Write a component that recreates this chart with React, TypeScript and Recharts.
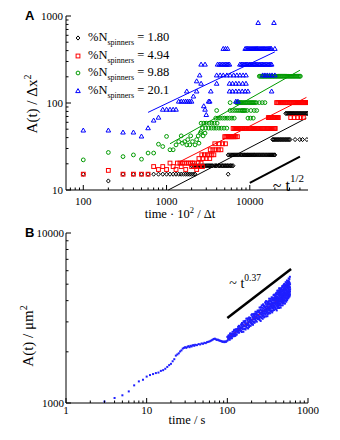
import type { ReactElement } from 'react';
import { Legend, ReferenceLine, Scatter, ScatterChart, XAxis, YAxis } from 'recharts';

const SERIF = '"Liberation Serif", "DejaVu Serif", serif';
const SANS = '"Liberation Sans", Arial, sans-serif';

// Panel A: each row is [A(t)/Δx², times at which that value was recorded]
type Row = [number, number[]];

const spinnerPercents = ['1.80', '4.94', '9.88', '20.1'];

const rows180: Row[] = [
  [15.2, [100, 300, 400, 500, 600, 700, 800, 900, 1000, 1100, 1200, 1300, 1400, 1500, 1600, 1700, 1800, 1900, 2000, 2100, 2200, 5500]],
  [12.7, [200]],
  [19, [2000, 2100, 2200, 2300, 2400, 2500, 2600, 2700, 2800, 2900, 3000, 3100, 3200, 3300, 3400, 3500, 3600, 3800, 3900, 4000, 4200, 4300, 4400, 4600, 4700, 4800, 5000, 5100, 5300, 5400, 5600, 5800, 5900, 6100, 6300]],
  [25.3, [5500, 5700, 5900, 6100, 6300, 6500, 6700, 6900, 7100, 7300, 7500, 7800, 8000, 8200, 8500, 8700, 9000, 9300, 9500, 9800, 10100, 10400, 10700, 11000, 11300, 11600, 12000, 12300, 12700, 13000, 13400, 13800, 14200, 14600, 15000, 15500, 15900, 16400, 16900, 17400, 17900, 18400, 18900, 19500, 20000]],
  [38, [18800, 19300, 19900, 20500, 21100, 21700, 22300, 23000, 23600, 24300, 25000, 25700, 26500, 27200, 28000, 28800, 29600, 30400, 35000, 39800, 43000, 48500]],
  [76, [27000, 27800, 28600, 29400, 30200, 31000, 31900, 32800, 33700, 34700, 35700, 36700, 37700, 38800, 39900, 41000, 42200, 43400, 44600, 45900, 47200, 48500, 49500]],
];

const rows494: Row[] = [
  [15.2, [100, 300, 400, 500, 600]],
  [16.8, [200]],
  [17.2, [800, 1000, 1300, 1700, 2300]],
  [18.6, [700, 900, 1200, 1500, 2000, 2200, 2500, 2700]],
  [20.4, [1100, 1350, 1450, 1550, 1650, 1750, 1850, 1950, 2050, 2150, 2400, 2600]],
  [23, [2450, 2750, 3000, 3300]],
  [25.4, [2650, 2850, 3100, 3300, 3500, 3700]],
  [29, [3350, 3600, 3900, 4200, 4500]],
  [34, [3800, 4300, 4700, 5100]],
  [41, [5000, 5150, 5300, 5450, 5600, 5750, 5900, 6050, 6200, 6400, 6600, 6800, 7100]],
  [51, [6300, 6500, 6700, 6900, 7100, 7300, 7500, 7700, 7900, 8100, 8300, 8600, 8800, 9100, 9300, 9600, 9900, 10200, 10500, 10800, 11100, 11400, 11700, 12100, 12400, 12800, 13200, 13600, 14000, 14400, 14800, 15200, 15700, 16200, 16600, 17100, 17600, 18100, 18700, 19200, 19800, 20200]],
  [68, [16700, 17200, 17700, 18200, 18700, 19300, 19800, 20400, 21000, 21600, 22000, 31000, 34000, 37500, 41000, 44000]],
  [101, [21000, 21600, 22200, 22900, 23500, 24200, 24900, 25600, 26400, 27100, 27900, 28700, 29600, 30400, 31300, 32200, 33200, 34100, 35100, 36100, 37200, 38300, 39400, 40500, 41700, 42900, 44200, 45500, 46800, 48200, 49500]],
];

const rows988: Row[] = [
  [22.2, [100]],
  [27, [200]],
  [24.2, [300]],
  [25.3, [400]],
  [22.6, [500]],
  [26.6, [600, 700]],
  [33.6, [800]],
  [31.6, [900]],
  [41.3, [1000]],
  [29, [1100, 1200]],
  [33, [1300, 1750, 1900, 2200]],
  [36, [1400, 1650, 2050]],
  [34.5, [1550, 2450]],
  [38, [1800, 2300]],
  [41.9, [1500, 1950, 2400, 2750]],
  [45, [2550, 2900]],
  [47, [2600]],
  [51.4, [2700, 2950, 3200, 3450, 3700, 3950, 4250, 4550, 4900, 5300]],
  [58.6, [2600, 2800, 3000, 3250, 3500, 3750, 4050]],
  [67, [3900, 4150, 4400, 4700, 5000, 5350, 5700, 6100, 6500, 9500, 10200, 11000]],
  [82, [4000, 5800, 6200, 6600, 7000, 7400, 7800, 8100, 8300, 8600, 8800, 9300, 10300, 11300, 12100]],
  [101, [5800, 6900, 7100, 7300, 7500, 7700, 7900, 8100, 8400, 8600, 8900, 9100, 9400, 9700, 10000, 10300, 10600, 10900, 11200, 11600, 12000, 13000, 14100, 15200]],
  [203, [13000, 13400, 13800, 14200, 14600, 15000, 15500, 15900, 16400, 16900, 17400, 17900, 18400, 19000, 19500, 20100, 20700, 21300, 22000, 22600, 23300, 24000, 24700, 25500, 26200, 27000, 27800, 28700, 29500, 30400, 31300, 32200, 33200, 34200, 35200, 36300, 37400, 38500, 39600, 40500]],
];

const rows201: Row[] = [
  [48.4, [100, 200]],
  [45.9, [300, 400]],
  [41.3, [500]],
  [51.4, [600]],
  [63, [700]],
  [68, [800]],
  [84, [900, 1000, 1100, 1200, 1300, 2900]],
  [73, [3000]],
  [92, [2800]],
  [104, [1400, 1500, 1600, 1700, 1800, 1900, 2000, 3200, 3300, 6800, 7200]],
  [119, [2100]],
  [136, [1750, 2300, 3400, 5700, 6200, 6800, 7400, 8100, 8800, 9500, 18300]],
  [167, [2600, 4000, 5700, 6200, 6800, 7400, 8200, 9000]],
  [178, [2300]],
  [208, [2500, 4000, 4400, 4800, 5300, 5800, 6400, 7000, 7600, 8300, 9000, 14300, 15200, 16200, 17300, 18500, 20000]],
  [277, [2600, 2900, 4100, 4300, 4500, 4700, 4900, 5100, 5300, 5500, 5700, 7600, 7900, 8200, 8500, 8800, 9100, 9400, 9800, 10100, 10500, 10800, 11200, 11600, 12000, 12400, 12900, 13300, 13800, 14300, 14800, 15300, 15900, 16500, 17100, 17700, 18300]],
  [420, [4800, 5100, 5400, 8800, 9100, 9400, 9700, 10000, 10300, 10600, 10900, 11200, 11500, 11800, 12100, 12400, 12800, 13200, 13600, 14000, 14400, 14800, 15200, 15700, 16200, 16700, 17200, 17700, 18200, 20000]],
  [834, [12600, 19500]],
];

// fitted power laws in panel A: [t0, A0, t1, A1]
const fitLinesA: [number, number, number, number][] = [
  [1050, 10, 47900, 67],
  [1450, 21.2, 47900, 116],
  [1100, 34, 40000, 238],
  [600, 78, 20000, 387],
];
const guideA: [number, number, number, number] = [10000, 12.1, 40000, 24.2];

const timeTicksA = [70, 80, 90, 100, 200, 300, 400, 500, 600, 700, 800, 900, 1000, 2000, 3000, 4000, 5000, 6000, 7000, 8000, 9000, 10000, 20000, 30000, 40000];
const areaTicksA = [10, 20, 30, 40, 50, 60, 70, 80, 90, 100, 200, 300, 400, 500, 600, 700, 800, 900, 1000];

// Panel B: early single trajectory, then the noisy cloud after t = 100 s
const earlyTimesB = [3, 4, 5, 6, 7, 8, 9, 10, 11, 12, 13, 14, 15, 16, 17, 18, 19, 20, 21, 22, 23, 24, 25, 26, 27, 28, 29, 30, 31, 32, 33, 34, 35, 36, 37, 38, 39, 40, 42, 44, 46, 48, 50, 52, 54, 56, 58, 60, 62, 64, 66, 68, 70, 72, 74, 76, 78, 80, 82, 84, 86, 88, 90, 92, 94, 96, 98];
const earlyAreasB = [1020, 1070, 1110, 1170, 1270, 1340, 1370, 1430, 1460, 1480, 1500, 1510, 1545, 1560, 1590, 1630, 1670, 1700, 1760, 1810, 1900, 1930, 1960, 2010, 2040, 2090, 2110, 2130, 2110, 2140, 2160, 2130, 2170, 2150, 2180, 2190, 2170, 2200, 2190, 2220, 2210, 2240, 2230, 2260, 2250, 2280, 2290, 2300, 2320, 2340, 2360, 2380, 2390, 2370, 2350, 2360, 2340, 2330, 2320, 2310, 2300, 2290, 2300, 2280, 2300, 2290, 2310];

const cloudB: [number, number][] = [
  [101, 2335], [102, 2463], [103, 2398], [104, 2503], [105, 2388], [106, 2469], [107, 2354], [108, 2558], [109, 2467], [110, 2401],
  [111, 2557], [112, 2465], [113, 2547], [114, 2405], [115, 2537], [116, 2621], [117, 2477], [118, 2535], [119, 2466], [120, 2627],
  [122, 2539], [123, 2701], [124, 2477], [126, 2647], [127, 2550], [128, 2714], [130, 2625], [131, 2527], [133, 2726], [134, 2602],
  [136, 2804], [137, 2650], [139, 2746], [140, 2592], [142, 2824], [143, 2695], [145, 2764], [146, 2663], [148, 2898], [149, 2767],
  [151, 2616], [152, 2955], [153, 2794], [155, 2721], [156, 2895], [158, 2624], [159, 3025], [160, 2861], [162, 2730], [163, 2964],
  [165, 2832], [166, 3039], [168, 2705], [169, 2942], [171, 2808], [172, 3132], [174, 2911], [175, 2771], [177, 3045], [178, 2875],
  [180, 3122], [181, 2744], [183, 2991], [184, 2878], [186, 3187], [187, 3044], [189, 2845], [190, 3121], [192, 2982], [193, 3169],
  [195, 2847], [196, 3096], [198, 2955], [199, 3295], [201, 3063], [202, 2915], [204, 3233], [205, 3023], [207, 3189], [208, 2885],
  [210, 3331], [211, 3119], [213, 3005], [214, 3261], [216, 3116], [217, 3342], [219, 2974], [220, 3232], [222, 3086], [223, 3441],
  [225, 3229], [226, 3043], [228, 3343], [229, 3156], [231, 3425], [232, 3010], [234, 3313], [235, 3156], [237, 3494], [238, 3270],
  [240, 3118], [241, 3418], [243, 3265], [244, 3502], [246, 3116], [247, 3421], [249, 3232],
  [251, 3644], [252, 3079], [254, 3389], [255, 3225], [257, 3536], [259, 3038], [260, 3651], [262, 3321], [264, 3498], [265, 3163],
  [267, 3750], [269, 3417], [270, 3250], [272, 3635], [274, 3128], [275, 3511], [277, 3346], [279, 3769], [280, 3600], [282, 3262],
  [284, 3722], [285, 3448], [287, 3212], [289, 3674], [290, 3538], [292, 3371], [294, 3906], [295, 3313], [297, 3638], [299, 3469],
  [300, 3828], [302, 3232], [304, 3702], [305, 3565], [307, 3394], [309, 3939], [310, 3477], [312, 3809], [314, 3241], [315, 3678],
  [317, 3578], [319, 3876], [320, 3408], [322, 3779], [324, 3351], [325, 3975], [327, 3655], [329, 3516], [330, 4107], [332, 3418],
  [334, 3867], [335, 3614], [337, 3992], [339, 3371], [340, 3819], [342, 3605], [344, 4096], [345, 3766], [347, 3513], [349, 3970],
  [350, 3712], [352, 3456], [354, 4179], [355, 3921], [357, 3627], [359, 4051], [360, 3411], [362, 3874], [364, 3730], [365, 4154],
  [367, 3628], [369, 4018], [370, 3831], [372, 3570], [374, 4309], [375, 3736], [377, 4014], [379, 3520], [380, 4143], [382, 3919],
  [384, 3732], [385, 4282], [387, 3667], [389, 4026], [390, 3874], [392, 4235], [394, 3615], [395, 4131], [397, 3824], [399, 4385],
  [401, 3560], [402, 4197], [404, 3965], [405, 4445], [407, 3737], [408, 4097], [410, 3506], [411, 4346], [413, 3874], [414, 4197],
  [416, 3683], [417, 4567], [419, 4052], [420, 3814], [422, 4344], [423, 3622], [425, 4152], [426, 4478], [428, 3878], [429, 4043],
  [431, 3766], [432, 4337], [434, 4587], [435, 3981], [437, 3621], [438, 4275], [440, 4119], [441, 3836], [443, 4496], [444, 3967],
  [446, 4711], [447, 4223], [449, 3736], [450, 4397], [452, 4074], [453, 3830], [455, 4620], [456, 4293], [458, 3638], [459, 4137],
  [461, 4516], [462, 3940], [464, 4361], [465, 4738], [467, 4037], [468, 3749], [470, 4255], [471, 4509], [473, 3930], [474, 4644],
  [476, 4148], [477, 4362], [479, 3864], [480, 4875], [482, 4251], [483, 4044], [485, 4514], [486, 3758], [488, 4778], [489, 4358],
  [491, 3983], [492, 4622], [494, 4162], [495, 4462], [497, 3873], [498, 4898], [500, 4265], [501, 4695], [503, 4061], [504, 4449],
  [506, 3856], [507, 5016], [509, 4379], [510, 4167], [512, 4647], [513, 4005], [515, 4829], [516, 4315], [518, 4580], [519, 3848],
  [521, 4937], [522, 4161], [524, 4470], [525, 4734], [527, 4001], [528, 5137], [530, 4402], [531, 4144], [533, 4674], [534, 4939],
  [536, 4290], [537, 3943], [539, 4606], [540, 5092], [542, 4132], [543, 4488], [545, 4846], [546, 4277], [548, 5254], [549, 4595],
  [551, 4026], [552, 4782], [554, 4390], [555, 5058], [557, 4221], [558, 4713], [560, 4942], [561, 4144], [563, 4551], [564, 5224],
  [566, 4337], [567, 4877], [569, 4480], [570, 4125], [572, 5074], [573, 4718], [575, 4319], [576, 5404], [578, 4644], [579, 4241],
  [581, 4970], [582, 5199], [584, 4483], [585, 4848], [587, 4219], [588, 5357], [590, 4591], [591, 5096], [593, 4419], [594, 4787],
  [596, 5524], [597, 4340], [599, 4986], [600, 4669],
];

// a second pass of frames recorded in the same interval (fills the cloud)
const cloudB2: [number, number][] = [
  [100, 2448], [103, 2374], [106, 2445], [109, 2556], [112, 2410], [115, 2543], [118, 2505], [121, 2680], [124, 2570], [127, 2499],
  [130, 2699], [133, 2658], [136, 2606], [139, 2844], [142, 2672], [145, 2782], [148, 2661],
  [150, 2860], [154, 2715], [158, 2822], [162, 2998], [166, 2729], [170, 2941], [174, 2860], [178, 3145], [182, 2939], [186, 2800],
  [190, 3128], [194, 3042], [198, 2937], [202, 3327], [206, 3018], [210, 3189], [214, 2968], [218, 3349], [222, 3144], [226, 3319],
  [230, 3324], [234, 3152], [238, 3272], [242, 3472], [246, 3158],
  [250, 3481], [254, 3212], [258, 3372], [262, 3647], [266, 3173], [270, 3508], [274, 3349], [278, 3806], [282, 3441], [286, 3190],
  [290, 3711], [294, 3549], [298, 3355], [302, 3975], [306, 3447], [310, 3706], [314, 3326], [318, 3924], [322, 3571], [326, 3836],
  [330, 3822], [334, 3526], [338, 3699], [342, 3999], [346, 3478], [350, 3844], [354, 3668], [358, 4167], [362, 3765], [366, 3489],
  [370, 4058], [374, 3879], [378, 3666], [382, 4341], [386, 3763], [390, 4045], [394, 3628], [398, 4280],
  [400, 4230], [403, 3843], [406, 4051], [409, 4419], [412, 3751], [415, 4200], [418, 3969], [421, 4582], [424, 4068], [427, 3714],
  [430, 4411], [433, 4178], [436, 3902], [439, 4727], [442, 4002], [445, 4339], [448, 3816], [451, 4605], [454, 4121], [457, 4461],
  [460, 4430], [463, 4026], [466, 4242], [469, 4626], [472, 3927], [475, 4396], [478, 4154], [481, 4795], [484, 4257], [487, 3886],
  [490, 4615], [493, 4370], [496, 4083], [499, 4944], [502, 4186], [505, 4538], [508, 3990], [511, 4815], [514, 4309], [517, 4663],
  [520, 4630], [523, 4207], [526, 4433], [529, 4834], [532, 4103], [535, 4593], [538, 4340], [541, 5008], [544, 4446], [547, 4059],
  [550, 4819], [553, 4563], [556, 4262], [559, 5161], [562, 4369], [565, 4736], [568, 4164], [571, 5024], [574, 4496], [577, 4865],
  [580, 4831], [583, 4388], [586, 4624], [589, 5043], [592, 4279], [595, 4789], [598, 4525],
];

const fitB: [number, number, number, number] = [100, 2400, 600, 4570];
const guideB: [number, number, number, number] = [100, 3160, 617, 6140];

const timeTicksB = [1, 2, 3, 4, 5, 6, 7, 8, 9, 10, 20, 30, 40, 50, 60, 70, 80, 90, 100, 200, 300, 400, 500, 600, 700, 800, 900, 1000];
const areaTicksB = [1000, 2000, 3000, 4000, 5000, 6000, 7000, 8000, 9000, 10000];

type MarkerKind = 'diamond' | 'square' | 'circle' | 'triangle' | 'dot';
const seriesStyleA: { kind: MarkerKind; color: string }[] = [
  { kind: 'diamond', color: '#000000' },
  { kind: 'square', color: '#ff0000' },
  { kind: 'circle', color: '#009a00' },
  { kind: 'triangle', color: '#0000ff' },
];
const seriesRowsA = [rows180, rows494, rows988, rows201];

function rowsToPoints(rows: Row[]): { x: number; y: number }[] {
  return rows.flatMap(([y, xs]) => xs.map((x) => ({ x, y })));
}

function Marker({ cx, cy, kind, color }: { cx: number; cy: number; kind: MarkerKind; color: string }): ReactElement {
  const r = 1.9;
  const common = { fill: 'none', stroke: color, strokeWidth: 1 };
  switch (kind) {
    case 'diamond':
      return <path d={`M${cx},${cy - r - 0.2}L${cx + r},${cy}L${cx},${cy + r + 0.2}L${cx - r},${cy}Z`} {...common} />;
    case 'square':
      return <rect x={cx - r} y={cy - r} width={2 * r} height={2 * r} {...common} />;
    case 'circle':
      return <circle cx={cx} cy={cy} r={r} {...common} />;
    case 'triangle':
      return <path d={`M${cx},${cy - r - 0.5}L${cx + r + 0.4},${cy + r - 0.3}L${cx - r - 0.4},${cy + r - 0.3}Z`} {...common} />;
    default:
      return <rect x={cx - 1} y={cy - 1} width={2} height={2} fill={color} />;
  }
}

function isDecade(v: number): boolean {
  const l = Math.log10(v);
  return Math.abs(l - Math.round(l)) < 1e-6;
}

type Side = 'bottom' | 'top' | 'left' | 'right';

function logTick(side: Side, gap: number) {
  return (props: any): ReactElement => {
    const { x, y, payload } = props;
    const v = payload.value as number;
    const major = isDecade(v);
    const len = major ? 5 : 2.5;
    let x2 = x;
    let y2 = y;
    if (side === 'bottom') y2 = y - len;
    else if (side === 'top') y2 = y + len;
    else if (side === 'left') x2 = x + len;
    else x2 = x - len;
    return (
      <g>
        <line x1={x} y1={y} x2={x2} y2={y2} stroke="#000" strokeWidth={1} />
        {major && side === 'bottom' && (
          <text x={x} y={y + gap} textAnchor="middle" fontFamily={SERIF} fontSize={11} fill="#000">
            {v}
          </text>
        )}
        {major && side === 'left' && (
          <text x={x - gap} y={y + 4} textAnchor="end" fontFamily={SERIF} fontSize={11} fill="#000">
            {v}
          </text>
        )}
      </g>
    );
  };
}

function slopeLabel(dx: number, dy: number, size: number, power: string, supSize: number, rise: number) {
  return (props: any): ReactElement => {
    const vb = props.viewBox ?? { x: 0, y: 0 };
    return (
      <text x={vb.x + dx} y={vb.y + dy} fontFamily={SERIF} fontSize={size} fill="#000">
        ~ t
        <tspan dy={-rise} fontSize={supSize}>
          {power}
        </tspan>
      </text>
    );
  };
}

function SpinnerLegend(): ReactElement {
  return (
    <div style={{ fontFamily: SERIF, color: '#000' }}>
      {spinnerPercents.map((pct, i) => (
        <div key={pct} style={{ height: 17.7, display: 'flex', alignItems: 'center', whiteSpace: 'nowrap' }}>
          <svg width={12} height={10} style={{ display: 'block' }}>
            <Marker cx={6} cy={5} kind={seriesStyleA[i].kind} color={seriesStyleA[i].color} />
          </svg>
          <span style={{ fontSize: 12.5, marginLeft: 4, lineHeight: '14px' }}>
            %N
            <span style={{ fontSize: 8, position: 'relative', top: 4 }}>spinners</span> = {pct}
          </span>
        </div>
      ))}
    </div>
  );
}

function PanelA(): ReactElement {
  return (
    <ScatterChart width={340} height={220} margin={{ top: 16, right: 32, bottom: 0, left: 0 }}>
      <XAxis
        xAxisId="b"
        dataKey="x"
        type="number"
        scale="log"
        domain={[62, 50000]}
        allowDataOverflow
        ticks={timeTicksA}
        interval={0}
        tickSize={0}
        tickMargin={0}
        height={30}
        stroke="#000"
        tick={logTick('bottom', 15)}
        label={() => (
          <text x={180} y={218} textAnchor="middle" fontFamily={SERIF} fontSize={12.5} fill="#000">
            time · 10
            <tspan dy={-5} fontSize={8.5}>
              2
            </tspan>
            <tspan dy={5}> / Δt</tspan>
          </text>
        )}
      />
      <XAxis
        xAxisId="t"
        orientation="top"
        type="number"
        scale="log"
        domain={[62, 50000]}
        allowDataOverflow
        ticks={timeTicksA}
        interval={0}
        tickSize={0}
        tickMargin={0}
        height={0}
        stroke="#000"
        tick={logTick('top', 0)}
      />
      <YAxis
        yAxisId="l"
        dataKey="y"
        type="number"
        scale="log"
        domain={[10, 1000]}
        allowDataOverflow
        ticks={areaTicksA}
        interval={0}
        tickSize={0}
        tickMargin={0}
        width={66}
        stroke="#000"
        tick={logTick('left', 3)}
        label={() => (
          <g>
            <text x={25} y={20} fontFamily={SANS} fontWeight="bold" fontSize={13} fill="#000">
              A
            </text>
            <text transform="translate(32,104) rotate(-90)" y={5} textAnchor="middle" fontFamily={SERIF} fontSize={15} fill="#000">
              A(t) / Δx
              <tspan dy={-6} fontSize={10}>
                2
              </tspan>
            </text>
          </g>
        )}
      />
      <YAxis
        yAxisId="r"
        orientation="right"
        type="number"
        scale="log"
        domain={[10, 1000]}
        allowDataOverflow
        ticks={areaTicksA}
        interval={0}
        tickSize={0}
        tickMargin={0}
        width={0}
        stroke="#000"
        tick={logTick('right', 0)}
      />
      <Legend
        layout="horizontal"
        verticalAlign="middle"
        align="center"
        content={() => <SpinnerLegend />}
        wrapperStyle={{ top: 29, left: 72, width: 'auto', height: 'auto' }}
      />
      {seriesRowsA.map((rows, i) => (
        <Scatter
          key={spinnerPercents[i]}
          name={spinnerPercents[i]}
          xAxisId="b"
          yAxisId="l"
          data={rowsToPoints(rows)}
          isAnimationActive={false}
          shape={(p: any) => <Marker cx={p.cx} cy={p.cy} kind={seriesStyleA[i].kind} color={seriesStyleA[i].color} />}
        />
      ))}
      {fitLinesA.map(([t0, a0, t1, a1], i) => (
        <ReferenceLine
          key={`fit${i}`}
          xAxisId="b"
          yAxisId="l"
          ifOverflow="visible"
          segment={[{ x: t0, y: a0 }, { x: t1, y: a1 }]}
          stroke={seriesStyleA[i].color}
          strokeWidth={1}
        />
      ))}
      <ReferenceLine
        xAxisId="b"
        yAxisId="l"
        ifOverflow="visible"
        segment={[{ x: guideA[0], y: guideA[1] }, { x: guideA[2], y: guideA[3] }]}
        stroke="#000"
        strokeWidth={2}
        label={slopeLabel(23, 34, 16, '1/2', 11, 9)}
      />
    </ScatterChart>
  );
}

function PanelB(): ReactElement {
  const early = earlyTimesB.map((x, i) => ({ x, y: earlyAreasB[i] }));
  const cloud = [...cloudB, ...cloudB2].map(([x, y]) => ({ x, y }));
  return (
    <ScatterChart width={340} height={220} margin={{ top: 13, right: 32, bottom: 0, left: 0 }}>
      <XAxis
        xAxisId="b"
        dataKey="x"
        type="number"
        scale="log"
        domain={[1, 1000]}
        allowDataOverflow
        ticks={timeTicksB}
        interval={0}
        tickSize={0}
        tickMargin={0}
        height={37}
        stroke="#000"
        tick={logTick('bottom', 11)}
        label={() => (
          <text x={187} y={204} textAnchor="middle" fontFamily={SERIF} fontSize={12.5} fill="#000">
            time / s
          </text>
        )}
      />
      <XAxis
        xAxisId="t"
        orientation="top"
        type="number"
        scale="log"
        domain={[1, 1000]}
        allowDataOverflow
        ticks={timeTicksB}
        interval={0}
        tickSize={0}
        tickMargin={0}
        height={0}
        stroke="#000"
        tick={logTick('top', 0)}
      />
      <YAxis
        yAxisId="l"
        dataKey="y"
        type="number"
        scale="log"
        domain={[1000, 10000]}
        allowDataOverflow
        ticks={areaTicksB}
        interval={0}
        tickSize={0}
        tickMargin={0}
        width={66}
        stroke="#000"
        tick={logTick('left', 2)}
        label={() => (
          <g>
            <text x={25} y={17} fontFamily={SANS} fontWeight="bold" fontSize={13} fill="#000">
              B
            </text>
            <text transform="translate(28,116) rotate(-90)" y={5} textAnchor="middle" fontFamily={SERIF} fontSize={15} fill="#000">
              A(t) / μm
              <tspan dy={-6} fontSize={10}>
                2
              </tspan>
            </text>
          </g>
        )}
      />
      <YAxis
        yAxisId="r"
        orientation="right"
        type="number"
        scale="log"
        domain={[1000, 10000]}
        allowDataOverflow
        ticks={areaTicksB}
        interval={0}
        tickSize={0}
        tickMargin={0}
        width={0}
        stroke="#000"
        tick={logTick('right', 0)}
      />
      <Scatter
        xAxisId="b"
        yAxisId="l"
        data={[...early, ...cloud]}
        isAnimationActive={false}
        shape={(p: any) => <Marker cx={p.cx} cy={p.cy} kind="dot" color="#1f1fff" />}
      />
      <ReferenceLine
        xAxisId="b"
        yAxisId="l"
        ifOverflow="visible"
        segment={[{ x: fitB[0], y: fitB[1] }, { x: fitB[2], y: fitB[3] }]}
        stroke="#ff0000"
        strokeWidth={1.5}
      />
      <ReferenceLine
        xAxisId="b"
        yAxisId="l"
        ifOverflow="visible"
        segment={[{ x: guideB[0], y: guideB[1] }, { x: guideB[2], y: guideB[3] }]}
        stroke="#000"
        strokeWidth={2.5}
        label={slopeLabel(2, 19, 14, '0.37', 9.5, 7)}
      />
    </ScatterChart>
  );
}

export default function App(): ReactElement {
  return (
    <div style={{ position: 'absolute', left: 0, top: 0, width: 340, height: 440, background: '#fff' }}>
      <div style={{ position: 'absolute', left: 0, top: 0 }}>
        <PanelA />
      </div>
      <div style={{ position: 'absolute', left: 0, top: 220 }}>
        <PanelB />
      </div>
    </div>
  );
}
